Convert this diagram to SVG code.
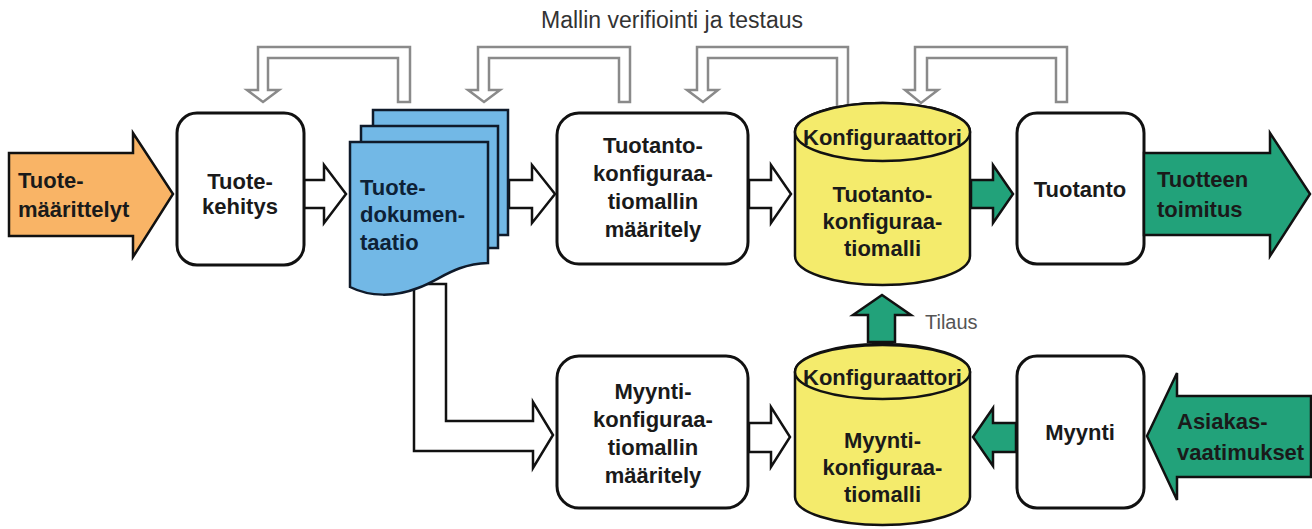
<svg xmlns="http://www.w3.org/2000/svg" width="1312" height="529" viewBox="0 0 1312 529">
<style>
.box{fill:#fff;stroke:#111;stroke-width:3}
.hol{fill:#fff;stroke:#111;stroke-width:2.5;stroke-linejoin:miter}
.fb{fill:#fff;stroke:#8a8a8a;stroke-width:2.5}
.grn{fill:#22A27A;stroke:#111;stroke-width:2.5}
.org{fill:#F9B466;stroke:#111;stroke-width:2.5}
.doc{fill:#72B8E6;stroke:#0f1a2a;stroke-width:2.5}
.cyl{fill:#F4EB6C;stroke:#111;stroke-width:2.5}
.t{font-family:"Liberation Sans",Arial,sans-serif;font-weight:bold;font-size:22px;fill:#1a1a1a}
.c{text-anchor:middle}
.r{font-family:"Liberation Sans",Arial,sans-serif;font-size:22px;fill:#333}
</style>
<rect width="1312" height="529" fill="#fff"/>

<g id="connectors">
  <path class="fb" d="M398,102 V58 H268 V90 H279 L263,102 L247,90 H258 V47 H410 V102 Z"/>
  <path class="fb" d="M619,102 V58 H489 V90 H500 L484,102 L468,90 H478 V47 H630 V102 Z"/>
  <path class="fb" d="M837,110 V58 H708 V90 H718 L703,102 L687,90 H697 V47 H848 V110 Z"/>
  <path class="fb" d="M1056,102 V58 H927 V90 H938 L921,103 L905,90 H915 V47 H1067 V102 Z"/>
  <path class="hol" d="M304,180 H324 V165 L346,194 L324,223 V208 H304 Z"/>
  <path class="hol" d="M509,180 H532 V165 L555,194 L532,223 V208 H509 Z"/>
  <path class="hol" d="M749,180 H771 V165 L791,194 L771,223 V208 H749 Z"/>
  <path class="hol" d="M749,423 H771 V407 L790,437 L771,467 V452 H749 Z"/>
  <path class="hol" d="M446,284 V421 H533 V402 L553,435 L533,468 V451 H414 V284 Z"/>
  <path class="grn" d="M971,180 H993 V165 L1013,194 L993,223 V208 H971 Z"/>
  <path class="grn" d="M1016,423 H993 V408 L973,437 L993,466 V452 H1016 Z"/>
  <path class="grn" d="M868,342 V315 H853 L882,295 L911,315 H895 V342 Z"/>
  <text class="r" x="925" y="329" style="font-size:20px;fill:#555">Tilaus</text>
  <text class="r c" x="672" y="28" style="font-size:23px">Mallin verifiointi ja testaus</text>
</g>

<g id="tuotemaarittelyt">
  <path class="org" d="M9,153 H133 V133 L173,194 L133,257 V236 H9 Z"/>
  <text class="t" x="18" y="188">Tuote-</text>
  <text class="t" x="18" y="217">määrittelyt</text>
</g>

<g id="tuotekehitys">
  <rect class="box" x="177" y="113" width="127" height="152" rx="20"/>
  <text class="t c" x="240" y="189">Tuote-</text>
  <text class="t c" x="240" y="214">kehitys</text>
</g>

<g id="tuotedokumentaatio">
  <rect class="doc" x="373" y="110" width="135" height="125"/>
  <rect class="doc" x="361" y="126" width="137" height="122"/>
  <path class="doc" d="M350,142 H488 V263 C455,264 440,280 418,288 C395,297 370,297 350,287 Z"/>
  <text class="t" x="360" y="195" style="fill:#0d2136">Tuote-</text>
  <text class="t" x="360" y="222" style="fill:#0d2136">dokumen-</text>
  <text class="t" x="360" y="250" style="fill:#0d2136">taatio</text>
</g>

<g id="tuotantokonf">
  <rect class="box" x="557" y="113" width="191" height="151" rx="22"/>
  <text class="t c" x="653" y="153">Tuotanto-</text>
  <text class="t c" x="653" y="181">konfiguraa-</text>
  <text class="t c" x="653" y="209">tiomallin</text>
  <text class="t c" x="653" y="237">määritely</text>
</g>

<g id="konfiguraattori1">
  <path class="cyl" d="M795,132 V256 A87.5,29 0 0 0 970,256 V132 A87.5,29 0 0 0 795,132 Z"/>
  <ellipse class="cyl" cx="882.5" cy="132" rx="87.5" ry="29"/>
  <text class="t c" x="882.5" y="145">Konfiguraattori</text>
  <text class="t c" x="882.5" y="202">Tuotanto-</text>
  <text class="t c" x="882.5" y="229">konfiguraa-</text>
  <text class="t c" x="882.5" y="256">tiomalli</text>
</g>

<g id="tuotanto">
  <rect class="box" x="1017" y="113" width="127" height="151" rx="20"/>
  <text class="t c" x="1080" y="197">Tuotanto</text>
</g>

<g id="tuotteentoimitus">
  <path class="grn" d="M1144,153 H1270 V133 L1310,194 L1270,256 V235 H1144 Z"/>
  <text class="t" x="1157" y="187">Tuotteen</text>
  <text class="t" x="1157" y="217">toimitus</text>
</g>

<g id="myyntikonf">
  <rect class="box" x="557" y="356" width="191" height="152" rx="22"/>
  <text class="t c" x="653" y="399">Myynti-</text>
  <text class="t c" x="653" y="427">konfiguraa-</text>
  <text class="t c" x="653" y="455">tiomallin</text>
  <text class="t c" x="653" y="483">määritely</text>
</g>

<g id="konfiguraattori2">
  <path class="cyl" d="M795,372 V497 A87.5,28 0 0 0 970,497 V372 A87.5,28 0 0 0 795,372 Z"/>
  <ellipse class="cyl" cx="882.5" cy="372" rx="87.5" ry="27"/>
  <text class="t c" x="882.5" y="385">Konfiguraattori</text>
  <text class="t c" x="882.5" y="448">Myynti-</text>
  <text class="t c" x="882.5" y="475">konfiguraa-</text>
  <text class="t c" x="882.5" y="502">tiomalli</text>
</g>

<g id="myynti">
  <rect class="box" x="1017" y="356" width="127" height="152" rx="20"/>
  <text class="t c" x="1080" y="440">Myynti</text>
</g>

<g id="asiakasvaatimukset">
  <path class="grn" d="M1311,396 H1177 V373 L1147,436 L1177,500 V477 H1311 Z"/>
  <text class="t" x="1177" y="429">Asiakas-</text>
  <text class="t" x="1177" y="460">vaatimukset</text>
</g>
</svg>
